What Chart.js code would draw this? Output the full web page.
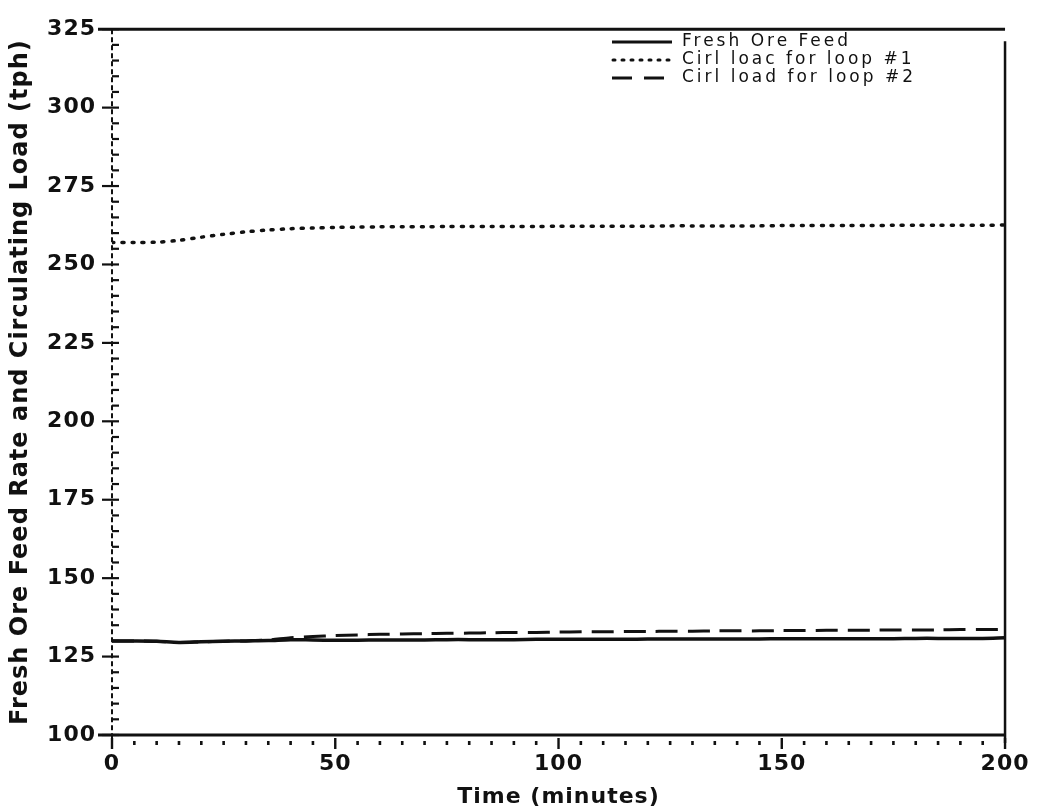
<!DOCTYPE html>
<html><head><meta charset="utf-8">
<script src="https://cdn.jsdelivr.net/npm/chart.js@4.4.1/dist/chart.umd.min.js"></script>
<style>html,body{margin:0;padding:0;background:#fff}#wrap{width:1044px;height:810px}</style>
</head><body><div id="wrap"><canvas id="c" width="1044" height="810"></canvas></div>
<script>
const timeMin = [0,5,10,15,20,25,30,35,40,45,50,55,60,65,70,75,80,85,90,95,100,105,110,115,120,125,130,135,140,145,150,155,160,165,170,175,180,185,190,195,200];
const freshOreFeed = [130.0,130.0,129.9,129.5,129.7,129.9,130.0,130.1,130.4,130.3,130.2,130.2,130.3,130.3,130.3,130.4,130.4,130.4,130.4,130.5,130.5,130.5,130.5,130.5,130.6,130.6,130.6,130.6,130.6,130.6,130.7,130.7,130.7,130.7,130.7,130.7,130.8,130.8,130.8,130.8,131.0];
const circLoadLoop1 = [257.0,257.0,257.1,257.7,258.7,259.6,260.4,261.0,261.4,261.6,261.8,261.9,262.0,262.0,262.0,262.1,262.1,262.1,262.1,262.1,262.2,262.2,262.2,262.2,262.2,262.3,262.3,262.3,262.3,262.3,262.4,262.4,262.4,262.4,262.4,262.5,262.5,262.5,262.5,262.5,262.6];
const circLoadLoop2 = [130.0,130.0,129.9,129.5,129.7,129.9,130.0,130.3,131.0,131.4,131.7,131.9,132.1,132.2,132.3,132.4,132.5,132.6,132.7,132.7,132.8,132.9,132.9,133.0,133.0,133.1,133.1,133.2,133.2,133.2,133.3,133.3,133.4,133.4,133.4,133.5,133.5,133.5,133.6,133.6,133.7];
const xTickLabels = [0,50,100,150,200];
const yTickLabels = [100,125,150,175,200,225,250,275,300,325];
const seriesNames = ['Fresh Ore Feed','Cirl loac for loop #1','Cirl load for loop #2'];
const xTitle = 'Time (minutes)';
const yTitle = 'Fresh Ore Feed Rate and Circulating Load (tph)';

const INK = '#111';

const framePlugin = {
  id: 'frame',
  beforeDraw(chart) { chart.ctx.letterSpacing = '1px'; },
  afterDatasetsDraw(chart) {
    const ctx = chart.ctx, a = chart.chartArea;
    const xs = chart.scales.x, ys = chart.scales.y;
    ctx.save();
    ctx.letterSpacing = '0px';
    ctx.strokeStyle = INK; ctx.fillStyle = INK;
    // top & bottom thick lines
    ctx.lineWidth = 3;
    ctx.beginPath(); ctx.moveTo(a.left - 14, a.top); ctx.lineTo(a.right, a.top); ctx.stroke();
    ctx.beginPath(); ctx.moveTo(a.left - 14, a.bottom); ctx.lineTo(a.right, a.bottom); ctx.stroke();
    // right axis
    ctx.lineWidth = 2.5;
    ctx.beginPath(); ctx.moveTo(a.right, a.top + 12); ctx.lineTo(a.right, a.bottom + 8); ctx.stroke();
    // left axis (dashed)
    ctx.lineWidth = 2;
    ctx.setLineDash([5, 3]);
    ctx.beginPath(); ctx.moveTo(a.left, a.top); ctx.lineTo(a.left, a.bottom + 14); ctx.stroke();
    ctx.setLineDash([]);
    // y ticks: minor every 5, major every 25
    const ymin = ys.min, ymax = ys.max;
    for (let v = ymin; v <= ymax; v += 5) {
      const y = ys.getPixelForValue(v);
      const major = yTickLabels.includes(v);
      ctx.lineWidth = 2.2;
      ctx.beginPath();
      ctx.moveTo(major ? a.left - 10 : a.left, y);
      ctx.lineTo(a.left + 7, y);
      ctx.stroke();
    }
    // x ticks: dots every 5, short marks at majors
    for (let v = xs.min; v <= xs.max; v += 5) {
      const x = xs.getPixelForValue(v);
      if (xTickLabels.includes(v)) {
        ctx.fillRect(x - 1.2, a.bottom + 3, 2.4, 11);
      } else {
        ctx.fillRect(x - 1.3, a.bottom + 6, 2.6, 4);
      }
    }
    ctx.restore();
  },
  afterDraw(chart) {
    const ctx = chart.ctx;
    // legend
    ctx.save();
    ctx.letterSpacing = '3px';
    ctx.font = '17px "DejaVu Sans"';
    ctx.fillStyle = INK;
    ctx.textBaseline = 'middle';
    ctx.textAlign = 'left';
    const rowY = [42, 60, 78];
    chart.data.datasets.forEach((ds, i) => {
      const y = rowY[i];
      ctx.strokeStyle = INK;
      ctx.lineWidth = i === 1 ? 3 : 3;
      ctx.lineCap = i === 1 ? 'round' : 'butt';
      ctx.setLineDash(i === 0 ? [] : (i === 1 ? [2, 7] : [20, 12]));
      ctx.beginPath();
      ctx.moveTo(i === 1 ? 613 : 612, y);
      ctx.lineTo(672, y);
      ctx.stroke();
      ctx.setLineDash([]);
      ctx.fillText(ds.label, 682, y);
    });
    ctx.restore();
    ctx.letterSpacing = '0px';
  }
};

const mk = (vals) => timeMin.map((t, i) => ({x: t, y: vals[i]}));

new Chart(document.getElementById('c'), {
  type: 'line',
  data: {
    datasets: [
      { label: seriesNames[0], data: mk(freshOreFeed), borderColor: INK, borderWidth: 3.5, pointRadius: 0, tension: 0.3 },
      { label: seriesNames[1], data: mk(circLoadLoop1), borderColor: INK, borderWidth: 3.5, borderDash: [2, 8], borderCapStyle: 'round', pointRadius: 0, tension: 0.3 },
      { label: seriesNames[2], data: mk(circLoadLoop2), borderColor: INK, borderWidth: 3, borderDash: [22, 10], pointRadius: 0, tension: 0.3 }
    ]
  },
  options: {
    responsive: false,
    animation: false,
    devicePixelRatio: 1,
    layout: { padding: { top: 20, right: 27, left: 0, bottom: 0 } },
    plugins: { legend: { display: false }, tooltip: { enabled: false } },
    scales: {
      x: {
        type: 'linear', min: 0, max: 200,
        afterBuildTicks: (s) => { s.ticks = xTickLabels.map(v => ({ value: v })); },
        afterFit: (s) => { s.height = 75; },
        grid: { display: false, drawTicks: false },
        border: { display: false },
        ticks: { color: INK, padding: 16, maxRotation: 0, font: { family: 'DejaVu Sans', size: 22, weight: 'bold' } },
        title: { display: true, text: xTitle, color: INK, padding: { top: 0, bottom: 0 }, font: { family: 'DejaVu Sans', size: 22, weight: 'bold' } }
      },
      y: {
        type: 'linear', min: 100, max: 325,
        afterBuildTicks: (s) => { s.ticks = yTickLabels.map(v => ({ value: v })); },
        afterFit: (s) => { s.width = 112; },
        grid: { display: false, drawTicks: false },
        border: { display: false },
        ticks: { color: INK, padding: 16, font: { family: 'DejaVu Sans', size: 22, weight: 'bold' } },
        title: { display: true, text: yTitle, color: INK, padding: { top: 6, bottom: 0 }, font: { family: 'DejaVu Sans', size: 24, weight: 'bold' } }
      }
    }
  },
  plugins: [framePlugin]
});
</script>
</body></html>
